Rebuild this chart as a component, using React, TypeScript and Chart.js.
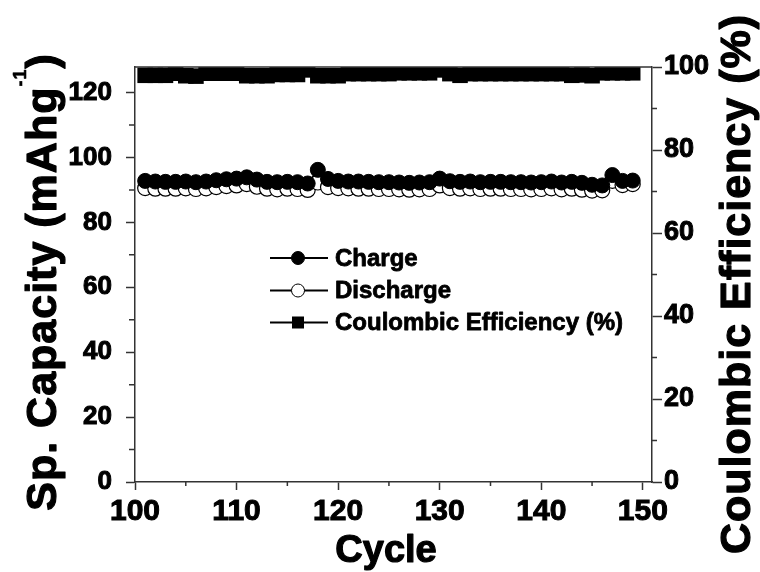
import React, { useEffect, useRef } from 'react';
import { Chart, registerables } from 'chart.js';

Chart.register(...registerables);

const cycles = [
  101, 102, 103, 104, 105, 106, 107, 108, 109, 110,
  111, 112, 113, 114, 115, 116, 117, 118, 119, 120,
  121, 122, 123, 124, 125, 126, 127, 128, 129, 130,
  131, 132, 133, 134, 135, 136, 137, 138, 139, 140,
  141, 142, 143, 144, 145, 146, 147, 148, 149,
];

const charge = [
  92.8, 92.6, 92.5, 92.5, 92.6, 92.4, 92.6, 93.0, 93.3, 93.5,
  93.9, 93.2, 92.5, 92.4, 92.5, 92.4, 92.0, 96.2, 93.4, 92.8,
  92.6, 92.6, 92.5, 92.4, 92.4, 92.3, 92.2, 92.3, 92.4, 93.5,
  92.7, 92.5, 92.6, 92.4, 92.5, 92.5, 92.4, 92.4, 92.3, 92.4,
  92.6, 92.3, 92.5, 92.2, 91.6, 91.4, 94.6, 92.8, 92.9,
];

const discharge = [
  90.6, 90.4, 90.4, 90.4, 90.5, 90.3, 90.5, 90.9, 91.2, 91.4,
  91.8, 91.0, 90.4, 90.2, 90.4, 90.3, 90.0, 92.3, 90.9, 90.6,
  90.5, 90.4, 90.4, 90.3, 90.3, 90.2, 90.1, 90.2, 90.3, 91.4,
  90.6, 90.4, 90.5, 90.3, 90.4, 90.4, 90.3, 90.3, 90.2, 90.3,
  90.5, 90.2, 90.4, 90.1, 89.8, 89.9, 92.8, 91.5, 91.8,
];

const efficiency = [
  98.0, 98.0, 98.0, 98.5, 97.9, 97.8, 98.5, 98.5, 98.5, 98.5,
  97.9, 97.9, 97.9, 98.2, 98.2, 98.2, 99.3, 97.9, 97.9, 97.9,
  98.4, 98.4, 98.4, 98.4, 98.4, 98.6, 98.6, 98.6, 98.6, 99.3,
  98.4, 98.0, 98.4, 98.4, 98.4, 98.4, 98.4, 98.4, 98.4, 98.4,
  98.4, 98.4, 98.0, 98.1, 97.9, 98.6, 98.6, 98.6, 98.6,
];

const xTicks = [100, 110, 120, 130, 140, 150];
const xMinorTicks = [105, 115, 125, 135, 145];
const capacityTicks = [0, 20, 40, 60, 80, 100, 120];
const capacityMinorTicks = [10, 30, 50, 70, 90, 110];
const efficiencyTicks = [0, 20, 40, 60, 80, 100];
const efficiencyMinorTicks = [10, 30, 50, 70, 90];

const seriesLabels = ['Charge', 'Discharge', 'Coulombic Efficiency (%)'];
const xTitle = 'Cycle';
const yTitleMain = 'Sp. Capacity (mAhg';
const yTitleSup = '-1';
const yTitleEnd = ')';
const y1Title = 'Coulombic Efficiency (%)';

const FAMILY = '"Liberation Sans", Arial, Helvetica, sans-serif';
const AXIS = '#333333';
const INK = '#000000';

function boldText(ctx: CanvasRenderingContext2D, text: string, x: number, y: number, sw: number) {
  ctx.fillText(text, x, y);
  if (sw > 0) {
    ctx.lineWidth = sw;
    ctx.strokeStyle = INK;
    ctx.lineJoin = 'round';
    ctx.strokeText(text, x, y);
  }
}

const decorPlugin = {
  id: 'decor',
  afterDraw(chart: any) {
    const { ctx, chartArea: a, scales } = chart;
    ctx.save();
    ctx.strokeStyle = AXIS;
    ctx.lineWidth = 1.5;
    // top frame line
    ctx.beginPath();
    ctx.moveTo(a.left, a.top);
    ctx.lineTo(a.right, a.top);
    ctx.stroke();
    // minor ticks
    ctx.beginPath();
    xMinorTicks.forEach((v) => {
      const px = scales.x.getPixelForValue(v);
      ctx.moveTo(px, a.bottom);
      ctx.lineTo(px, a.bottom + 4);
    });
    capacityMinorTicks.forEach((v) => {
      const py = scales.y.getPixelForValue(v);
      ctx.moveTo(a.left, py);
      ctx.lineTo(a.left - 6, py);
    });
    efficiencyMinorTicks.forEach((v) => {
      const py = scales.y1.getPixelForValue(v);
      ctx.moveTo(a.right, py);
      ctx.lineTo(a.right + 5, py);
    });
    ctx.stroke();

    ctx.fillStyle = INK;
    // x title
    ctx.font = `bold 38px ${FAMILY}`;
    ctx.textAlign = 'center';
    ctx.textBaseline = 'alphabetic';
    boldText(ctx, xTitle, 386, 562, 1.2);

    // left title
    ctx.save();
    ctx.translate(56, 282);
    ctx.rotate(-Math.PI / 2);
    ctx.textAlign = 'left';
    ctx.textBaseline = 'alphabetic';
    (ctx as any).letterSpacing = '1px';
    ctx.font = `bold 43px ${FAMILY}`;
    const w1 = ctx.measureText(yTitleMain).width;
    const w3 = ctx.measureText(yTitleEnd).width;
    ctx.font = `bold 18px ${FAMILY}`;
    const w2 = ctx.measureText(yTitleSup).width;
    let tx = -(w1 + w2 + w3) / 2;
    ctx.font = `bold 43px ${FAMILY}`;
    boldText(ctx, yTitleMain, tx, 0, 1.2);
    tx += w1;
    ctx.font = `bold 18px ${FAMILY}`;
    boldText(ctx, yTitleSup, tx, -30, 0.6);
    tx += w2;
    ctx.font = `bold 43px ${FAMILY}`;
    boldText(ctx, yTitleEnd, tx, 0, 1.2);
    ctx.restore();

    // right title
    ctx.save();
    ctx.translate(750, 284);
    ctx.rotate(-Math.PI / 2);
    ctx.textAlign = 'center';
    ctx.textBaseline = 'alphabetic';
    (ctx as any).letterSpacing = '1px';
    ctx.font = `bold 43px ${FAMILY}`;
    boldText(ctx, y1Title, 0, 0, 1.2);
    ctx.restore();

    // legend
    const rows = [258, 290.5, 322.5];
    chart.data.datasets.forEach((ds: any, i: number) => {
      const y = rows[i];
      ctx.strokeStyle = INK;
      ctx.lineWidth = 2;
      ctx.beginPath();
      ctx.moveTo(270, y);
      ctx.lineTo(328, y);
      ctx.stroke();
      if (ds.pointStyle === 'rect') {
        ctx.fillStyle = INK;
        ctx.fillRect(292, y - 6, 12, 12);
      } else {
        ctx.beginPath();
        ctx.arc(298, y, 6.5, 0, Math.PI * 2);
        ctx.fillStyle = ds.pointBackgroundColor;
        ctx.fill();
        ctx.lineWidth = 1;
        ctx.stroke();
      }
      ctx.fillStyle = INK;
      ctx.font = `bold 24px ${FAMILY}`;
      ctx.textAlign = 'left';
      ctx.textBaseline = 'middle';
      boldText(ctx, ds.label, 335, y + 1, 0.8);
    });
    ctx.restore();
  },
};

const tickFont = (size: number) => ({ family: FAMILY, size, weight: 'bold' as const });

export default function App() {
  const canvasRef = useRef<HTMLCanvasElement | null>(null);

  useEffect(() => {
    if (!canvasRef.current) return;
    const toPoints = (vals: number[]) => cycles.map((c, i) => ({ x: c, y: vals[i] }));
    const chart = new Chart(canvasRef.current, {
      type: 'line',
      data: {
        datasets: [
          {
            label: seriesLabels[0],
            data: toPoints(charge),
            yAxisID: 'y',
            borderColor: INK,
            borderWidth: 1.5,
            pointStyle: 'circle',
            pointRadius: 7.5,
            pointBackgroundColor: INK,
            pointBorderColor: INK,
            pointBorderWidth: 1,
            order: 0,
          },
          {
            label: seriesLabels[1],
            data: toPoints(discharge),
            yAxisID: 'y',
            borderColor: INK,
            borderWidth: 1.5,
            pointStyle: 'circle',
            pointRadius: 7.5,
            pointBackgroundColor: '#ffffff',
            pointBorderColor: INK,
            pointBorderWidth: 1.2,
            order: 1,
          },
          {
            label: seriesLabels[2],
            data: toPoints(efficiency),
            yAxisID: 'y1',
            borderColor: INK,
            borderWidth: 1.5,
            pointStyle: 'rect',
            pointRadius: 11,
            pointBackgroundColor: INK,
            pointBorderColor: INK,
            pointBorderWidth: 0,
            order: 2,
          },
        ] as any,
      },
      options: {
        responsive: false,
        animation: false,
        devicePixelRatio: 1,
        layout: { padding: { top: 67, right: 0, left: 0, bottom: 0 } },
        plugins: {
          legend: { display: false },
          tooltip: { enabled: false },
        },
        scales: {
          x: {
            type: 'linear',
            position: 'bottom',
            min: 100,
            max: 150.9,
            afterBuildTicks: (s: any) => {
              s.ticks = xTicks.map((v) => ({ value: v }));
            },
            afterFit: (s: any) => {
              s.height = 90;
            },
            ticks: {
              color: INK,
              font: tickFont(30),
              padding: 4,
              maxRotation: 0,
              autoSkip: false,
              includeBounds: false,
              textStrokeColor: INK,
              textStrokeWidth: 1,
            },
            grid: { drawOnChartArea: false, tickLength: 8, color: AXIS, tickWidth: 1.5 },
            border: { color: AXIS, width: 1.5 },
          },
          y: {
            type: 'linear',
            position: 'left',
            min: 0,
            max: 127.9,
            afterBuildTicks: (s: any) => {
              s.ticks = capacityTicks.map((v) => ({ value: v }));
            },
            afterFit: (s: any) => {
              s.width = 135;
            },
            ticks: {
              color: INK,
              font: tickFont(26),
              padding: 14,
              autoSkip: false,
              includeBounds: false,
              textStrokeColor: INK,
              textStrokeWidth: 1,
            },
            grid: { drawOnChartArea: false, tickLength: 9, color: AXIS, tickWidth: 1.5 },
            border: { color: AXIS, width: 1.5 },
          },
          y1: {
            type: 'linear',
            position: 'right',
            min: 0,
            max: 100,
            afterBuildTicks: (s: any) => {
              s.ticks = efficiencyTicks.map((v) => ({ value: v }));
            },
            afterFit: (s: any) => {
              s.width = 108;
            },
            ticks: {
              color: INK,
              font: tickFont(27),
              padding: 2,
              autoSkip: false,
              includeBounds: false,
              textStrokeColor: INK,
              textStrokeWidth: 1,
            },
            grid: { drawOnChartArea: false, tickLength: 10, color: AXIS, tickWidth: 1.5 },
            border: { color: AXIS, width: 1.5 },
          },
        },
      } as any,
      plugins: [decorPlugin],
    });
    return () => chart.destroy();
  }, []);

  return (
    <div style={{ position: 'absolute', left: 0, top: 0, width: 760, height: 572, background: '#ffffff' }}>
      <canvas ref={canvasRef} width={760} height={572} style={{ display: 'block' }} />
    </div>
  );
}
